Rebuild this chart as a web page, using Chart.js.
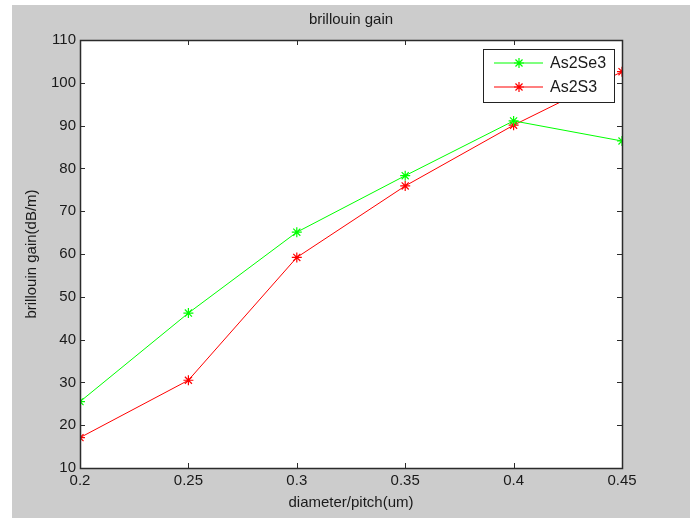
<!DOCTYPE html>
<html>
<head>
<meta charset="utf-8">
<script src="https://cdn.jsdelivr.net/npm/chart.js@4/dist/chart.umd.min.js"></script>
<style>
    html, body { margin: 0; padding: 0; background: #fff; }
    #wrap { width: 690px; height: 518px; }
</style>
</head>
<body>
<div id="wrap"><canvas id="myChart" width="690" height="518"></canvas></div>
<script>
// values
const diameters = [0.2, 0.25, 0.3, 0.35, 0.4, 0.45];
const as2se3 = [25.5, 46.2, 65.1, 78.3, 91.1, 86.4];
const as2s3 = [17.1, 30.5, 59.2, 75.9, 90.1, 102.6];
const seriesNames = ['As2Se3', 'As2S3'];
const seriesColors = ['#00ff00', '#ff0000'];

const FONT = 'Liberation Sans, Arial, sans-serif';
const AXIS = '#2b2b2b';
const TXT = '#1a1a1a';

function toPoints(ys) {
    return diameters.map(function (x, i) { return { x: x, y: ys[i] }; });
}

// grey figure background (white strip on the left and top like the screenshot)
const figureBg = {
    id: 'figureBg',
    beforeDraw: function (chart) {
        const ctx = chart.ctx;
        ctx.save();
        ctx.fillStyle = '#cccccc';
        ctx.fillRect(12, 5, chart.width - 12, chart.height - 5);
        const a = chart.chartArea;
        ctx.fillStyle = '#ffffff';
        ctx.fillRect(a.left, a.top, a.right - a.left, a.bottom - a.top);
        ctx.restore();
    }
};

// matlab style box with inward ticks on all four sides
const axesBox = {
    id: 'axesBox',
    afterDatasetsDraw: function (chart) {
        const ctx = chart.ctx;
        const a = chart.chartArea;
        const xs = chart.scales.x, ys = chart.scales.y;
        const len = 5;
        ctx.save();
        ctx.strokeStyle = AXIS;
        ctx.lineWidth = 1;
        ctx.beginPath();
        xs.ticks.forEach(function (t) {
            const px = Math.round(xs.getPixelForValue(t.value)) + 0.5;
            ctx.moveTo(px, a.bottom); ctx.lineTo(px, a.bottom - len);
            ctx.moveTo(px, a.top); ctx.lineTo(px, a.top + len);
        });
        ys.ticks.forEach(function (t) {
            const py = Math.round(ys.getPixelForValue(t.value)) + 0.5;
            ctx.moveTo(a.left, py); ctx.lineTo(a.left + len, py);
            ctx.moveTo(a.right, py); ctx.lineTo(a.right - len, py);
        });
        ctx.stroke();
        ctx.lineWidth = 1.5;
        ctx.strokeRect(Math.round(a.left) + 0.5, Math.round(a.top) + 0.5,
            Math.round(a.right - a.left), Math.round(a.bottom - a.top));
        ctx.restore();
    }
};

// legend inside the axes, top right
const boxLegend = {
    id: 'boxLegend',
    afterDraw: function (chart) {
        const ctx = chart.ctx;
        const a = chart.chartArea;
        const w = 131, h = 53;
        const x0 = a.right - 8 - w, y0 = a.top + 9;
        ctx.save();
        ctx.fillStyle = '#ffffff';
        ctx.fillRect(x0, y0, w, h);
        ctx.strokeStyle = '#222';
        ctx.lineWidth = 1;
        ctx.strokeRect(x0 + 0.5, y0 + 0.5, w, h);
        chart.data.datasets.forEach(function (ds, i) {
            const cy = y0 + 14 + i * 24;
            const col = seriesColors[i];
            ctx.strokeStyle = col;
            ctx.fillStyle = col;
            ctx.lineWidth = 1.2;
            ctx.beginPath();
            ctx.moveTo(x0 + 11, cy);
            ctx.lineTo(x0 + 60, cy);
            ctx.stroke();
            Chart.helpers.drawPoint(ctx, { pointStyle: 'star', radius: 5, rotation: 0, borderWidth: 1.2 }, x0 + 36, cy);
            ctx.fillStyle = TXT;
            ctx.font = '16px ' + FONT;
            ctx.textBaseline = 'middle';
            ctx.textAlign = 'left';
            ctx.fillText(ds.label, x0 + 67, cy + 1);
        });
        ctx.restore();
    }
};

const config = {
    type: 'line',
    data: {
        datasets: [
            {
                label: seriesNames[0],
                data: toPoints(as2se3),
                borderColor: seriesColors[0],
                backgroundColor: seriesColors[0],
                borderWidth: 1,
                pointStyle: 'star',
                pointRadius: 5,
                pointBorderWidth: 1.2,
                pointBorderColor: seriesColors[0],
                tension: 0
            },
            {
                label: seriesNames[1],
                data: toPoints(as2s3),
                borderColor: seriesColors[1],
                backgroundColor: seriesColors[1],
                borderWidth: 1,
                pointStyle: 'star',
                pointRadius: 5,
                pointBorderWidth: 1.2,
                pointBorderColor: seriesColors[1],
                tension: 0
            }
        ]
    },
    options: {
        responsive: false,
        animation: false,
        events: [],
        layout: { padding: { left: 0, right: 68, top: 0, bottom: 0 } },
        plugins: {
            legend: { display: false },
            tooltip: { enabled: false },
            title: {
                display: true,
                text: 'brillouin gain',
                fullSize: false,
                color: TXT,
                font: { family: FONT, size: 15, weight: 'normal' },
                padding: { top: 11, bottom: 11 }
            }
        },
        scales: {
            x: {
                type: 'linear',
                min: 0.2,
                max: 0.45,
                grid: { display: false, drawTicks: false },
                border: { display: false },
                ticks: {
                    stepSize: 0.05,
                    padding: 4,
                    maxRotation: 0,
                    color: TXT,
                    font: { family: FONT, size: 15 },
                    callback: function (v) { return String(Math.round(v * 100) / 100); }
                },
                title: {
                    display: true,
                    text: 'diameter/pitch(um)',
                    color: TXT,
                    font: { family: FONT, size: 15 },
                    padding: { top: 2, bottom: 6 }
                },
                afterFit: function (s) { s.height = 50; }
            },
            y: {
                min: 10,
                max: 110,
                grid: { display: false, drawTicks: false },
                border: { display: false },
                ticks: {
                    stepSize: 10,
                    padding: 4,
                    color: TXT,
                    font: { family: FONT, size: 15 }
                },
                title: {
                    display: true,
                    text: 'brillouin gain(dB/m)',
                    color: TXT,
                    font: { family: FONT, size: 15 },
                    padding: { top: 23, bottom: 4 }
                },
                afterFit: function (s) { s.width = 80; }
            }
        }
    },
    plugins: [figureBg, axesBox, boxLegend]
};

const myChart = new Chart(document.getElementById('myChart'), config);
</script>
</body>
</html>
